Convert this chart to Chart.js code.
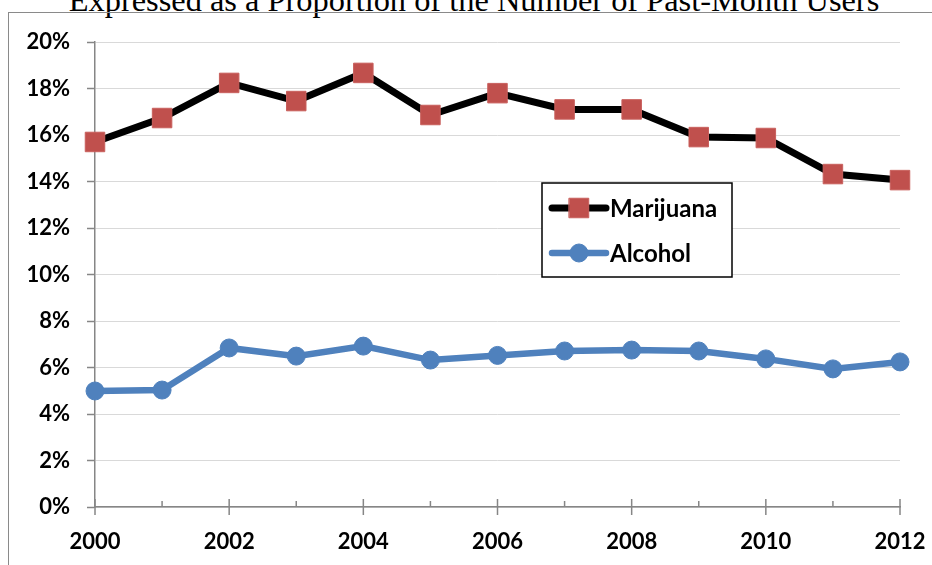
<!DOCTYPE html>
<html>
<head>
<meta charset="utf-8">
<script src="https://cdn.jsdelivr.net/npm/chart.js@4.4.1/dist/chart.umd.min.js"></script>
<style>
  html, body { margin: 0; padding: 0; background: #fff; overflow: hidden; }
  #wrap { position: relative; width: 932px; height: 565px; overflow: hidden; }
  #title {
    position: absolute; left: 8px; top: -16px; width: 932px; text-align: center;
    font-family: "Liberation Serif", "Times New Roman", serif; font-size: 32.4px; line-height: 32px;
    color: #000; white-space: nowrap;
  }
  #frame {
    position: absolute; left: 8px; top: 12px; width: 1000px; height: 700px;
    border: 1.5px solid #8a8a8a; box-sizing: border-box;
  }
  #chart { position: absolute; left: 0; top: 0; }
</style>
</head>
<body>
<div id="wrap">
  <div id="title">Expressed as a Proportion of the Number of Past-Month Users</div>
  <div id="frame"></div>
  <canvas id="chart" width="932" height="565"></canvas>
</div>
<script>
// Données (% des usagers du dernier mois)
const years = ['2000', '2001', '2002', '2003', '2004', '2005', '2006', '2007', '2008', '2009', '2010', '2011', '2012'];
const marijuana = [15.7, 16.73, 18.24, 17.46, 18.67, 16.86, 17.8, 17.1, 17.1, 15.91, 15.87, 14.32, 14.06];
const alcohol = [4.99, 5.03, 6.84, 6.49, 6.92, 6.32, 6.52, 6.71, 6.75, 6.71, 6.37, 5.94, 6.24];
const yTicks = [0, 2, 4, 6, 8, 10, 12, 14, 16, 18, 20];

const axisColor = '#868686';
const labelFont = { family: 'Lato', size: 22, weight: 'bold' };

// Petits traits sur l'axe X : longs aux années paires, courts aux impaires
const xTickMarks = {
    id: 'xTickMarks',
    afterDatasetsDraw(chart) {
        const { ctx, scales: { x }, chartArea } = chart;
        ctx.save();
        ctx.strokeStyle = axisColor;
        ctx.lineWidth = 1.5;
        years.forEach((yr, i) => {
            const px = x.getPixelForValue(i);
            ctx.beginPath();
            if (i % 2 === 0) {
                ctx.moveTo(px, chartArea.bottom - 8);
                ctx.lineTo(px, chartArea.bottom + 8);
            } else {
                ctx.moveTo(px, chartArea.bottom - 6);
                ctx.lineTo(px, chartArea.bottom);
            }
            ctx.stroke();
        });
        ctx.restore();
    }
};

// Légende encadrée dans la zone du graphique
const boxLegend = {
    id: 'boxLegend',
    afterDraw(chart) {
        const { ctx } = chart;
        const left = 542, top = 183, w = 190, h = 94;
        ctx.save();
        ctx.fillStyle = '#fff';
        ctx.fillRect(left, top, w, h);
        ctx.strokeStyle = '#000';
        ctx.lineWidth = 1.5;
        ctx.strokeRect(left, top, w, h);
        chart.data.datasets.forEach((ds, i) => {
            const cy = top + 25 + i * 45;
            ctx.strokeStyle = ds.borderColor;
            ctx.lineWidth = ds.borderWidth;
            ctx.lineCap = 'round';
            ctx.beginPath();
            ctx.moveTo(552, cy);
            ctx.lineTo(606, cy);
            ctx.stroke();
            ctx.fillStyle = ds.pointBackgroundColor;
            ctx.strokeStyle = ds.pointBorderColor;
            ctx.lineWidth = ds.pointBorderWidth;
            Chart.helpers.drawPoint(ctx, { pointStyle: ds.pointStyle, radius: ds.pointRadius, borderWidth: ds.pointBorderWidth }, 579, cy);
            ctx.fillStyle = '#000';
            ctx.font = 'bold 24px Lato';
            ctx.textBaseline = 'middle';
            ctx.textAlign = 'left';
            ctx.fillText(ds.label, 610, cy + 1);
        });
        ctx.restore();
    }
};

new Chart(document.getElementById('chart'), {
    type: 'line',
    data: {
        labels: years,
        datasets: [
            {
                label: 'Marijuana',
                data: marijuana,
                borderColor: '#000000',
                borderWidth: 7,
                pointStyle: 'rect',
                pointRadius: 13.8,
                pointBackgroundColor: '#C0504D',
                pointBorderColor: '#C9605D',
                pointBorderWidth: 1,
                clip: false
            },
            {
                label: 'Alcohol',
                data: alcohol,
                borderColor: '#4F81BD',
                borderWidth: 6.5,
                pointStyle: 'circle',
                pointRadius: 9,
                pointBackgroundColor: '#4F81BD',
                pointBorderColor: '#4F81BD',
                pointBorderWidth: 1,
                clip: false
            }
        ]
    },
    options: {
        responsive: false,
        animation: false,
        events: [],
        layout: { padding: { left: 0, top: 42, right: 32, bottom: 0 } },
        plugins: { legend: { display: false }, tooltip: { enabled: false }, title: { display: false } },
        scales: {
            x: {
                type: 'category',
                offset: false,
                // traits invisibles : ils servent seulement à descendre les libellés
                grid: { display: true, drawOnChartArea: false, drawTicks: true, tickLength: 20, tickColor: 'rgba(0,0,0,0)' },
                border: { display: true, color: axisColor, width: 1.5 },
                ticks: {
                    autoSkip: false, maxRotation: 0, padding: 2,
                    color: '#000', font: labelFont,
                    callback: (v, i) => (i % 2 === 0 ? years[i] : '')
                },
                afterFit: s => { s.height = 58; }
            },
            y: {
                min: 0, max: 20,
                afterBuildTicks: s => { s.ticks = yTicks.map(v => ({ value: v })); },
                grid: {
                    color: '#d9d9d9', lineWidth: 1, borderDash: [2, 2],
                    drawTicks: true, tickLength: 8, tickColor: axisColor, tickWidth: 1.5, tickBorderDash: [8, 0]
                },
                border: { display: true, color: axisColor, width: 1.5 },
                ticks: {
                    padding: 17, color: '#000', font: labelFont,
                    callback: v => v + '%'
                },
                afterFit: s => { s.width = 95; }
            }
        }
    },
    plugins: [xTickMarks, boxLegend]
});
</script>
</body>
</html>
